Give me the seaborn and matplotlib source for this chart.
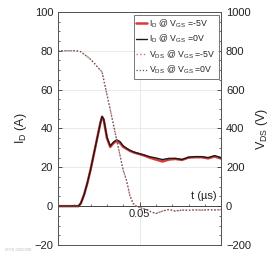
import numpy as np
import matplotlib.pyplot as plt
import seaborn as sns
import pandas as pd
from matplotlib.ticker import MultipleLocator, FixedLocator

# time axis (us)
t = [0.000, 0.005, 0.010, 0.0125, 0.014, 0.016, 0.018, 0.020, 0.022, 0.024,
     0.026, 0.027, 0.028, 0.030, 0.032, 0.034, 0.036, 0.038, 0.040, 0.042,
     0.044, 0.046, 0.048, 0.050, 0.053, 0.056, 0.060, 0.064, 0.068, 0.072,
     0.076, 0.080, 0.084, 0.088, 0.092, 0.096, 0.100]

# drain current (A)
id_m5 = [0, 0, 0, 0, 1.5, 6, 12, 19, 27, 35,
         43, 46, 44.5, 35, 30.5, 32.5, 33.5, 32.5, 30.5, 29.5,
         28.5, 27.8, 27.2, 26.8, 26, 25, 24, 23, 24, 24.3,
         23.8, 25, 25.2, 25.2, 24.6, 25.6, 24.5]
id_0 = [0, 0, 0, 0, 1.5, 6, 12, 19, 27, 35,
        43, 46.2, 44.8, 35.5, 31, 33, 34.2, 33.2, 31, 29.8,
        28.8, 28, 27.5, 27, 26.3, 25.5, 24.8, 24, 24.6, 24.6,
        24, 25.2, 25.5, 25.5, 25, 26, 25]

# drain-source voltage (V)
vds_m5 = [800, 800, 800, 798, 795, 782, 770, 755, 738, 718,
          700, 690, 652, 575, 498, 420, 340, 262, 185, 134,
          57, 15, 0, -6, -15, -25, -38, -26, -17, -26,
          -20, -22, -19, -21, -19, -20, -19]
vds_0 = [800, 800, 800, 798, 795, 782, 770, 755, 738, 718,
         700, 690, 650, 573, 496, 418, 338, 260, 183, 132,
         55, 14, 0, -6, -15, -26, -38, -25, -17, -25,
         -20, -21, -19, -20, -18, -19, -18]

sns.set_style("ticks")
plt.rcParams['font.family'] = ['Liberation Sans', 'DejaVu Sans']
plt.rcParams['mathtext.fontset'] = 'custom'
plt.rcParams['mathtext.rm'] = 'Liberation Sans'
plt.rcParams['mathtext.it'] = 'Liberation Sans'

fig = plt.figure(figsize=(2.7, 2.59), dpi=100)
ax = fig.add_axes([0.215, 0.054, 0.604, 0.900])
ax2 = ax.twinx()

red = '#d93a3a'
dark = '#1a1a1a'

sns.lineplot(x=t, y=id_m5, ax=ax, color=red, lw=1.8, label=r'I$_\mathregular{D}$ @ V$_\mathregular{GS}$ =-5V')
sns.lineplot(x=t, y=id_0, ax=ax, color=dark, lw=1.0, label=r'I$_\mathregular{D}$ @ V$_\mathregular{GS}$ =0V')
sns.lineplot(x=t, y=vds_m5, ax=ax2, color='#e07070', lw=1.0, ls=':', label=r'V$_\mathregular{DS}$ @ V$_\mathregular{GS}$ =-5V')
sns.lineplot(x=t, y=vds_0, ax=ax2, color='#555555', lw=0.9, ls=(0, (1, 1.5)), label=r'V$_\mathregular{DS}$ @ V$_\mathregular{GS}$ =0V')

ax.set_xlim(0, 0.1)
ax.set_ylim(-20, 100)
ax2.set_ylim(-200, 1000)

# x axis through zero
ax.spines['bottom'].set_position(('data', 0))
ax.spines['bottom'].set_color('#444444')
ax.spines['bottom'].set_linewidth(0.7)
ax.xaxis.set_major_locator(FixedLocator([0.05]))
ax.xaxis.set_minor_locator(MultipleLocator(0.01))
ax.set_xticklabels(['0.05'])

ax.yaxis.set_major_locator(MultipleLocator(20))
ax.yaxis.set_minor_locator(MultipleLocator(5))
ax2.yaxis.set_major_locator(MultipleLocator(200))
ax2.yaxis.set_minor_locator(MultipleLocator(50))

for a in (ax, ax2):
    a.tick_params(which='both', direction='in', labelsize=8, colors='#333333', labelcolor='#222222')
    a.tick_params(which='major', length=3, width=0.6)
    a.tick_params(which='minor', length=1.5, width=0.5)
    for s in ('left', 'right', 'top'):
        a.spines[s].set_color('#555555')
        a.spines[s].set_linewidth(0.7)
ax2.spines['bottom'].set_color('#555555')
ax2.spines['bottom'].set_linewidth(0.7)
ax.tick_params(axis='x', pad=2)

ax.grid(True, which='major', color='#e6e6e6', lw=0.6)
ax.set_axisbelow(True)

ax.set_ylabel(r'I$_\mathregular{D}$ (A)', fontsize=9, labelpad=4)
ax2.set_ylabel(r'V$_\mathregular{DS}$ (V)', fontsize=9, labelpad=2)
ax.text(0.097, 2.5, 't (µs)', fontsize=8, ha='right', va='bottom', color='#222222')

h1, l1 = ax.get_legend_handles_labels()
h2, l2 = ax2.get_legend_handles_labels()
ax.get_legend().remove()
ax2.get_legend().remove()
leg = ax2.legend(h1 + h2, l1 + l2, loc='upper right', fontsize=6.3, frameon=True,
                 fancybox=False, edgecolor='#555555', handlelength=1.2,
                 handletextpad=0.3, borderpad=0.3, labelspacing=0.35,
                 borderaxespad=0.3)
leg.get_frame().set_linewidth(0.7)

fig.text(0.02, 0.03, 'IXYS 2020000', fontsize=3, color='#bbbbbb')

fig.savefig('out.png', dpi=100)
